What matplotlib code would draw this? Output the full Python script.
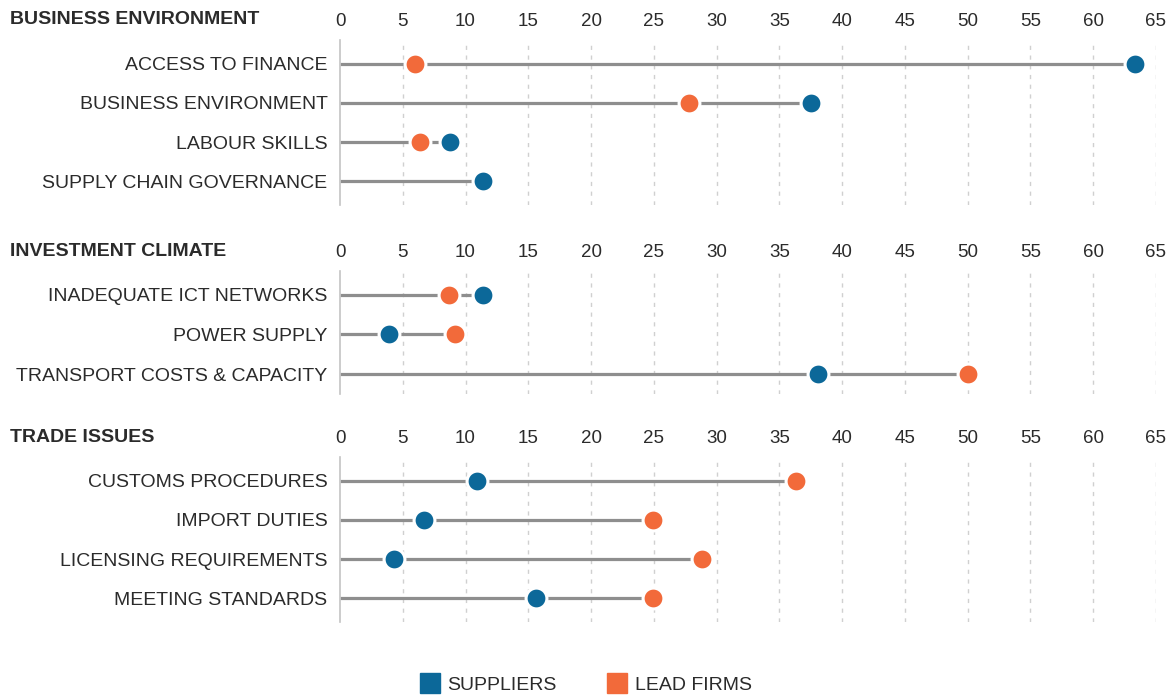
import numpy as np
import matplotlib.pyplot as plt
from matplotlib.lines import Line2D

plt.rcParams['font.family'] = ['Liberation Sans', 'DejaVu Sans']

# data (percent)
titles = ["BUSINESS ENVIRONMENT", "INVESTMENT CLIMATE", "TRADE ISSUES"]

labels_be = ["ACCESS TO FINANCE", "BUSINESS ENVIRONMENT", "LABOUR SKILLS", "SUPPLY CHAIN GOVERNANCE"]
suppliers_be = [63.3, 37.5, 8.8, 11.4]
leadfirms_be = [6.0, 27.8, 6.4, None]

labels_ic = ["INADEQUATE ICT NETWORKS", "POWER SUPPLY", "TRANSPORT COSTS & CAPACITY"]
suppliers_ic = [11.4, 3.9, 38.1]
leadfirms_ic = [8.7, 9.2, 50.0]

labels_tr = ["CUSTOMS PROCEDURES", "IMPORT DUTIES", "LICENSING REQUIREMENTS", "MEETING STANDARDS"]
suppliers_tr = [10.9, 6.7, 4.3, 15.6]
leadfirms_tr = [36.3, 24.9, 28.8, 24.9]

ticks = list(range(0, 70, 5))

blue = '#0c6899'
orange = '#f26a3a'
linegray = '#8e8e8e'
textcol = '#2b2b2b'

W, H = 1172, 697
fig = plt.figure(figsize=(W / 100, H / 100), dpi=100)

# pixel boxes: (top, bottom) of each panel
boxes = [(40, 205), (271, 394), (457, 622)]
left_px, right_px = 340, 1156

panels = [
    (labels_be, suppliers_be, leadfirms_be),
    (labels_ic, suppliers_ic, leadfirms_ic),
    (labels_tr, suppliers_tr, leadfirms_tr),
]

for (top, bot), title, (labs, sup, lead) in zip(boxes, titles, panels):
    ax = fig.add_axes([left_px / W, 1 - bot / H, (right_px - left_px) / W, (bot - top) / H])
    n = len(labs)
    y = np.arange(n)
    for i in range(n):
        vals = [v for v in (sup[i], lead[i]) if v is not None]
        ax.plot([0, max(vals)], [i, i], color=linegray, lw=2.3, zorder=1,
                solid_capstyle='butt')
    ax.plot(sup, y, 'o', color=blue, ms=15, mec='white', mew=2.2, zorder=3,
            clip_on=False, ls='none')
    lx = [v for v in lead if v is not None]
    ly = [i for i, v in enumerate(lead) if v is not None]
    ax.plot(lx, ly, 'o', color=orange, ms=15, mec='white', mew=2.2, zorder=3,
            clip_on=False, ls='none')

    ax.set_xlim(0, 65)
    ax.set_ylim(n - 0.5 + (0.1 if n == 4 else 0), -0.6)
    ax.set_xticks(ticks)
    ax.xaxis.tick_top()
    ax.set_yticks(y)
    ax.set_yticklabels(labs)
    ax.tick_params(axis='both', length=0, colors=textcol)
    ax.tick_params(axis='x', pad=7, labelsize=13.5)
    ax.tick_params(axis='y', pad=9, labelsize=14)
    for s in ['top', 'right', 'bottom']:
        ax.spines[s].set_visible(False)
    ax.spines['left'].set_color('#c4c4c4')
    ax.spines['left'].set_linewidth(1.2)
    for t in ticks[1:]:
        ax.axvline(t, color='#d0d0d0', lw=1, ls=(0, (3, 4)), zorder=0)
    fig.text(10 / W, 1 - (top - 20) / H, title, fontsize=14, fontweight='bold',
             color=textcol, va='center', ha='left')

handles = [
    Line2D([], [], marker='s', ls='none', color=blue, ms=14, label='SUPPLIERS'),
    Line2D([], [], marker='s', ls='none', color=orange, ms=14, label='LEAD FIRMS'),
]
leg = fig.legend(handles=handles, loc='center', bbox_to_anchor=(0.5, 1 - 685 / H), ncol=2,
                 frameon=False, fontsize=14, handlelength=1.0, handletextpad=0.4,
                 columnspacing=2.6)
for t in leg.get_texts():
    t.set_color(textcol)

fig.savefig('out.png', dpi=100)
